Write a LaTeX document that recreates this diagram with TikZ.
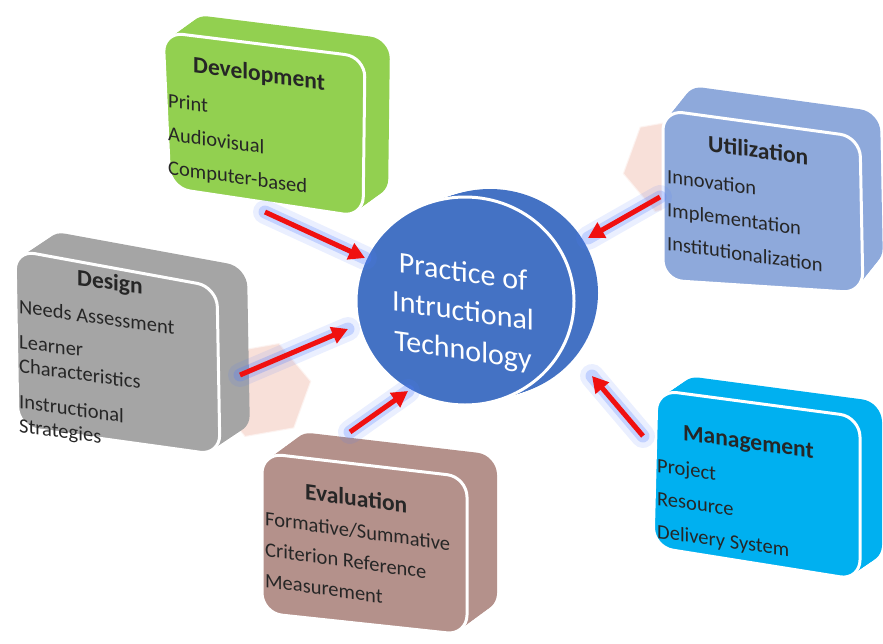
\documentclass[tikz,border=0pt]{standalone}
\usepackage{fontspec}
\setmainfont{Carlito}
\usetikzlibrary{arrows.meta,shapes.geometric}
\definecolor{cgreen}{HTML}{92D050}
\definecolor{cgray}{HTML}{A5A5A5}
\definecolor{clav}{HTML}{8EA9DB}
\definecolor{cbrown}{HTML}{B4918B}
\definecolor{ccyan}{HTML}{00B0F0}
\definecolor{cblue}{HTML}{4472C4}
\definecolor{cpink}{HTML}{F4CCC0}
\definecolor{cred}{HTML}{F01010}
\definecolor{cglow}{HTML}{4F7BFF}
\newcommand\ttlfont{\bfseries\fontsize{23.5}{25}\selectfont}
\tikzset{
  backface/.style={rounded corners=20pt},
  frontface/.style={rounded corners=20pt, draw=white, line width=3pt},
  boxtext/.style={text=black!85, yslant=-0.14, anchor=base west, inner sep=0pt},
  ctxt/.style={font=\fontsize{30}{39}\selectfont, text=white, yslant=-0.14, inner sep=0pt, align=center},
  glowA/.style={line width=24pt, draw=cglow, opacity=0.12, line cap=round},
  glowB/.style={line width=13pt, draw=cglow, opacity=0.25, line cap=round},
  redarrow/.style={line width=5pt, draw=cred, -{Triangle[length=16pt,width=17pt]}},
  hexa/.style={regular polygon, regular polygon sides=6, minimum size=100pt, fill=cpink, opacity=0.6, draw=white, line width=2pt}
}
\newcommand\drawextbox[7]{%
  \foreach \i in {0,...,9}{%
    \fill[#1, backface, shift={({(10-\i)*(#2)/10},{(10-\i)*(#3)/10})}] #4 -- #5 -- #6 -- #7 -- cycle;}
  \fill[#1, frontface] #4 -- #5 -- #6 -- #7 -- cycle;}
\begin{document}
\begin{tikzpicture}[x=1pt,y=-1pt]
\useasboundingbox (0,0) rectangle (883,643);
% hexagons
\node[hexa, rotate=10] (h1) at (262,390) {};
\node[hexa, rotate=10] (h2) at (672,165) {};
% boxes
\drawextbox{cgreen}{25}{-18}{(163,32)}{(365,57)}{(363,217)}{(170,188)}
\drawextbox{cgray}{30}{-20}{(15,250)}{(217,287)}{(220,455)}{(18,427)}
\drawextbox{clav}{20}{-25}{(663,110)}{(860,137)}{(863,293)}{(663,280)}
\drawextbox{cbrown}{30}{-22}{(262,453)}{(467,477)}{(467,635)}{(262,613)}
\drawextbox{ccyan}{22}{-15}{(657,390)}{(860,417)}{(860,580)}{(653,547)}
% centre
\foreach \i in {0,...,9}{%
  \fill[cblue] ({465+(10-\i)*2.5},{301-(10-\i)*0.8}) ellipse [x radius=108pt, y radius=104pt];}
\draw[fill=cblue, draw=white, line width=3pt] (465,301) ellipse [x radius=109pt, y radius=104pt];
\node[ctxt] (ctr) at (463,313) {Practice of\\Intructional\\Technology};
% texts
\node[boxtext, font=\fontsize{20.5}{33.5}\selectfont] (dev) at (168,68.5)
  {\begin{tabular}[t]{@{}l@{}}\hspace*{25pt}{\ttlfont Development}\\[5pt]
   Print\\ Audiovisual\\ Computer-based\end{tabular}};
\node[boxtext, font=\fontsize{20.5}{24}\selectfont] (des) at (19,276.9)
  {\begin{tabular}[t]{@{}l@{}}\hspace*{58pt}{\ttlfont Design}\\[12.1pt]
   Needs Assessment\\[11pt] Learner\\ Characteristics\\[12pt] Instructional\\ Strategies\end{tabular}};
\node[boxtext, font=\fontsize{20.5}{33.5}\selectfont] (uti) at (667,145.3)
  {\begin{tabular}[t]{@{}l@{}}\hspace*{41pt}{\ttlfont Utilization}\\[4.2pt]
   Innovation\\ Implementation\\ Institutionalization\end{tabular}};
\node[boxtext, font=\fontsize{20.5}{31}\selectfont] (eva) at (265,493.4)
  {\begin{tabular}[t]{@{}l@{}}\hspace*{40pt}{\ttlfont Evaluation}\\[0.6pt]
   Formative/Summative\\ Criterion Reference\\ Measurement\end{tabular}};
\node[boxtext, font=\fontsize{20.5}{33}\selectfont] (man) at (657,436.4)
  {\begin{tabular}[t]{@{}l@{}}\hspace*{26pt}{\ttlfont Management}\\[2.6pt]
   Project\\ Resource\\ Delivery System\end{tabular}};
% arrows
\coordinate (a1s) at (265,212); \coordinate (a1e) at (365,258);
\coordinate (a2s) at (660,197); \coordinate (a2e) at (588,238);
\coordinate (a3s) at (240,375); \coordinate (a3e) at (348,329);
\coordinate (a4s) at (350,432); \coordinate (a4e) at (408,391);
\coordinate (a5s) at (643,436); \coordinate (a5e) at (592,376);
\foreach \s/\e in {a1s/a1e,a2s/a2e,a3s/a3e,a4s/a4e,a5s/a5e}{
  \draw[glowA] (\s) -- (\e);
  \draw[glowB] (\s) -- (\e);
  \draw[redarrow] (\s) -- (\e);
}
\end{tikzpicture}
\end{document}
